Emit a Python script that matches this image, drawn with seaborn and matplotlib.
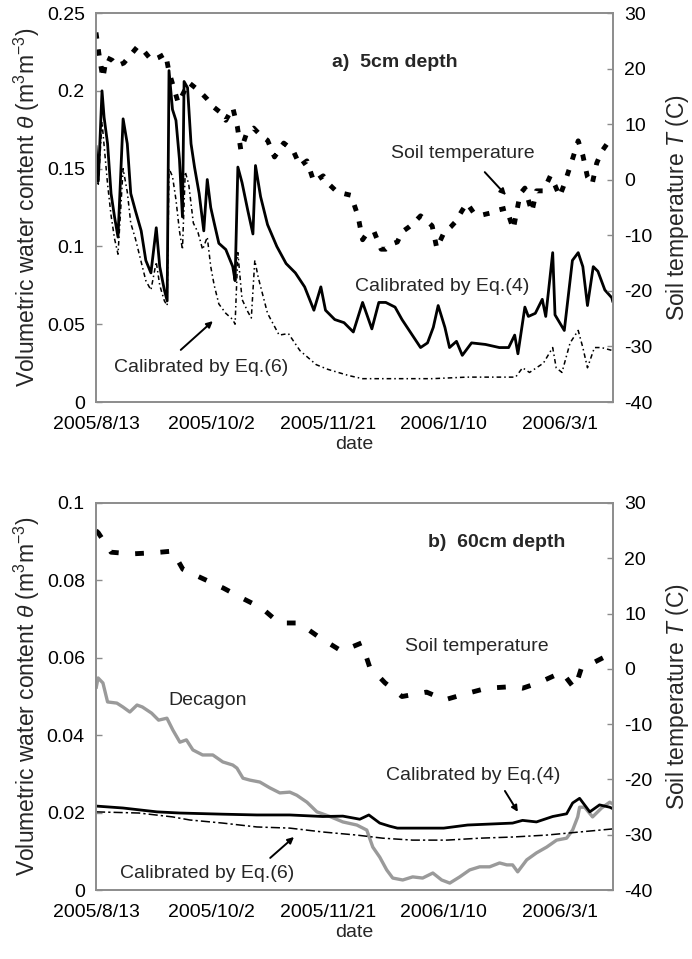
import numpy as np
import pandas as pd
import matplotlib
matplotlib.use("Agg")
import matplotlib.pyplot as plt
import matplotlib.ticker as mticker
import seaborn as sns

# ---- data -------------------------------------------------------------
START = "2005-08-13"
XTICK_DAYS = [0, 50, 100, 150, 200]
X_END_DAY = 223

# 5 cm depth: volumetric water content (m3/m3)
a_eq4_day = [0, 1, 2.6, 3.5, 5, 6.5, 8, 9.5, 11.7, 13.5, 15, 17, 19.5, 21.5, 23.7, 26, 27.5,
             29.5, 30.7, 31.5, 33, 34.5, 36, 37.3, 38, 39.5, 41, 42.5, 44.5, 46.5, 48, 49.5,
             51, 53, 56, 59, 60, 61.2, 63, 65.5, 67.7, 68.8, 71, 74, 78, 82, 86, 90, 94, 97,
             99, 103, 107, 111, 115, 119, 122, 125, 129, 132, 136, 140, 143, 145.5, 147.6,
             150.5, 152.5, 155.5, 158, 162, 168, 174, 178, 180.6, 182, 185, 186.5, 189.5,
             192.5, 194, 197, 198, 202, 205.5, 208, 210, 212, 214.5, 216.5, 219.5, 222.5, 223]
a_eq4_val = [0.165, 0.142, 0.200, 0.183, 0.166, 0.134, 0.119, 0.106, 0.182, 0.166, 0.134,
             0.123, 0.110, 0.091, 0.083, 0.112, 0.087, 0.072, 0.065, 0.213, 0.188, 0.181,
             0.156, 0.119, 0.206, 0.202, 0.166, 0.151, 0.134, 0.110, 0.143, 0.125, 0.115,
             0.102, 0.098, 0.087, 0.078, 0.151, 0.141, 0.123, 0.108, 0.152, 0.132, 0.114,
             0.100, 0.089, 0.083, 0.074, 0.059, 0.074, 0.059, 0.053, 0.051, 0.045, 0.064,
             0.047, 0.064, 0.064, 0.061, 0.053, 0.044, 0.035, 0.038, 0.048, 0.062, 0.048,
             0.035, 0.039, 0.030, 0.038, 0.037, 0.035, 0.035, 0.043, 0.031, 0.061, 0.055,
             0.057, 0.066, 0.055, 0.096, 0.056, 0.046, 0.091, 0.096, 0.087, 0.062, 0.087,
             0.084, 0.072, 0.067, 0.064]

a_eq6_day = [0, 1, 2.6, 3.5, 5, 6.5, 8, 9.5, 11.7, 13.5, 15, 17, 19.5, 21.5, 23.7, 26, 27.5,
             29.5, 30.7, 31.5, 33, 34.5, 36, 37.3, 38.5, 40, 42, 44, 46, 48, 49.5, 51, 53,
             56, 59, 60, 61.2, 63, 65.5, 67, 68.5, 70, 74, 79, 83, 88, 95, 100, 109, 115,
             130, 145, 160, 175, 181, 184, 187, 190, 193, 197, 198.5, 201, 204.5, 208, 210,
             212, 215, 218, 223]
a_eq6_val = [0.150, 0.140, 0.180, 0.165, 0.140, 0.120, 0.105, 0.095, 0.150, 0.135, 0.115,
             0.105, 0.090, 0.078, 0.072, 0.090, 0.075, 0.065, 0.062, 0.150, 0.145, 0.130,
             0.110, 0.098, 0.148, 0.140, 0.115, 0.109, 0.098, 0.106, 0.087, 0.075, 0.063,
             0.057, 0.053, 0.050, 0.096, 0.066, 0.058, 0.054, 0.091, 0.080, 0.057, 0.043,
             0.044, 0.033, 0.024, 0.021, 0.017, 0.015, 0.015, 0.015, 0.016, 0.016, 0.016,
             0.022, 0.019, 0.022, 0.025, 0.035, 0.022, 0.019, 0.038, 0.046, 0.035, 0.022,
             0.035, 0.035, 0.033]

# 5 cm depth: soil temperature (C)
a_temp_day = [0, 1.5, 3, 4.5, 7, 9, 12, 15, 18, 21, 24, 27, 30, 31.5, 35.5, 40, 43, 45, 48,
              51, 54, 56, 59, 61, 62.5, 65, 68, 71, 74, 77, 81, 85, 88, 91, 94, 98, 101, 104,
              107, 110, 113, 115, 117, 120, 123, 125, 128, 130, 132, 135, 137, 140, 143, 145,
              147, 150, 153, 155, 158, 160, 163, 167, 170, 174, 177, 180, 183, 185, 188, 190,
              193, 196, 198, 200, 202, 205, 208, 210, 212, 214, 216, 218, 221, 223]
a_temp_val = [26.5, 22, 18.3, 22, 21.5, 20.5, 21, 22.5, 24, 23, 21.5, 22, 22.7, 19.4, 13.8,
              17.5, 16.5, 15.8, 14.5, 13, 12, 10.7, 13, 9.5, 5.3, 8.4, 9.3, 8, 7.1, 4.1, 6.6,
              5.3, 2.5, 3.4, -0.4, 0.7, -1, -2.2, -2.5, -2.8, -6.5, -10.8, -9.6, -9.4, -12.5,
              -12.5, -11.5, -11.2, -9.4, -8.5, -7.8, -6.5, -7.5, -8.3, -12.3, -9.6, -8.5,
              -7.6, -5.5, -4.2, -6, -6.3, -6, -5.4, -5.1, -8.9, -2.5, -1.5, -5.8, -2, -2, 0.7,
              -1, -3, -0.8, 3, 7, 4.4, 0.5, -0.8, 3, 5, 6.8, 7]

# 60 cm depth: volumetric water content (m3/m3)
b_eq4_day = [0, 11.6, 26.3, 36.2, 54.7, 69.4, 83.6, 97.8, 106.5, 113.8, 117.7, 122.4, 126.7,
             130, 150, 160.3, 179.7, 184, 190, 197, 203, 205.6, 208.6, 213, 217.2, 221.6, 223]
b_eq4_val = [0.0217, 0.0212, 0.0202, 0.0199, 0.0196, 0.0194, 0.0194, 0.0190, 0.0191, 0.0183,
             0.0194, 0.0173, 0.0165, 0.0160, 0.0160, 0.0168, 0.0173, 0.0180, 0.0176, 0.0190,
             0.0197, 0.0225, 0.0237, 0.0202, 0.0220, 0.0214, 0.0210]

b_eq6_day = [0, 18.5, 33, 40.5, 54.7, 69.4, 83.6, 97.8, 112.5, 123.7, 136.6, 151.3, 165.5,
             179.7, 194.4, 208.6, 223]
b_eq6_val = [0.0202, 0.0199, 0.0189, 0.0181, 0.0173, 0.0163, 0.0160, 0.0150, 0.0142, 0.0134,
             0.0129, 0.0129, 0.0134, 0.0137, 0.0142, 0.0150, 0.0158]

b_dec_day = [0, 0.9, 3, 5, 9, 11.6, 14.6, 17.7, 20, 24, 27, 30.6, 33.2, 36.2, 39, 41.8, 46,
             50.4, 54.7, 59, 60.8, 63.4, 66.4, 70.7, 75, 79.3, 83.6, 86.6, 91, 95.3, 100.9,
             106.5, 112.5, 116.8, 119.4, 122.4, 125.4, 128, 132.3, 136.6, 140.9, 145.3,
             149.1, 152.6, 156.9, 161.2, 165.5, 169.8, 174.1, 177.2, 179.7, 181.9, 185.8,
             190, 194.4, 198.7, 203, 205.6, 207.8, 208.6, 210.8, 214.2, 218.1, 221.6, 223]
b_dec_val = [0.0520, 0.0548, 0.0535, 0.0486, 0.0483, 0.0473, 0.0460, 0.0478, 0.0473, 0.0457,
             0.0439, 0.0444, 0.0413, 0.0382, 0.0388, 0.0362, 0.0349, 0.0349, 0.0331, 0.0323,
             0.0315, 0.0289, 0.0284, 0.0279, 0.0264, 0.0251, 0.0253, 0.0245, 0.0227, 0.0202,
             0.0190, 0.0176, 0.0168, 0.0155, 0.0111, 0.0085, 0.0052, 0.0031, 0.0026, 0.0034,
             0.0031, 0.0044, 0.0026, 0.0018, 0.0034, 0.0052, 0.0060, 0.0060, 0.0070, 0.0065,
             0.0065, 0.0047, 0.0078, 0.0096, 0.0111, 0.0129, 0.0134, 0.0155, 0.0189, 0.0214,
             0.0214, 0.0189, 0.0212, 0.0227, 0.0222]

# 60 cm depth: soil temperature (C)
b_temp_day = [0, 1, 6.5, 15.5, 25, 33, 37.5, 45.7, 55, 63, 71.5, 79, 87.5, 96, 106, 114.6,
              118, 124.6, 132, 142.6, 150.4, 159.5, 168.5, 180, 184, 191, 201, 206.5, 209.5,
              214, 221, 223]
b_temp_val = [25, 24.6, 21.1, 20.8, 21, 21.3, 18, 16.4, 14.6, 12.8, 11, 8.3, 8.3, 5.8, 3.2,
              4.7, 0.4, -2.5, -5, -4.2, -5.6, -4.5, -3.5, -3.2, -3.5, -2.5, -0.6, -3.6, 0.3,
              1, 2.5, 3]

# ---- helpers ----------------------------------------------------------
t0 = pd.Timestamp(START)


def frame(days, values):
    return pd.DataFrame({"date": t0 + pd.to_timedelta(np.asarray(days, float), unit="D"),
                         "value": values})


sns.set_theme(style="white")
plt.rcParams["font.family"] = ["Liberation Sans", "DejaVu Sans"]
plt.rcParams["mathtext.fontset"] = "custom"
plt.rcParams["mathtext.rm"] = "Liberation Sans"
plt.rcParams["mathtext.it"] = "Liberation Sans:italic"
plt.rcParams["lines.solid_capstyle"] = "butt"
plt.rcParams["lines.dash_capstyle"] = "butt"

FS = 14
LABEL_FS = 16.5
SPINE = "#8c8c8c"

fig = plt.figure(figsize=(6.92, 9.59), dpi=100)
ax_a = fig.add_axes([0.1387, 0.5808, 0.7471, 0.4056])
ax_b = fig.add_axes([0.1387, 0.0719, 0.7471, 0.4036])

date_fmt = mticker.FuncFormatter(
    lambda v, _: (lambda d: f"{d.year}/{d.month}/{d.day}")(pd.Timestamp(matplotlib.dates.num2date(v)).tz_localize(None)))


def style_axes(ax, ax2, ylim, yticks, ytick_fmt, tlim, tticks):
    ax.set_xlim(t0, t0 + pd.Timedelta(days=X_END_DAY))
    ax.set_xticks([t0 + pd.Timedelta(days=d) for d in XTICK_DAYS])
    ax.xaxis.set_major_formatter(date_fmt)
    ax.set_ylim(*ylim)
    ax.set_yticks(yticks)
    ax.set_yticklabels([ytick_fmt(v) for v in yticks])
    ax2.set_ylim(*tlim)
    ax2.set_yticks(tticks)
    ax2.set_yticklabels([str(v) for v in tticks])
    for a in (ax, ax2):
        for s in a.spines.values():
            s.set_color(SPINE)
            s.set_linewidth(1.2)
        a.tick_params(direction="in", length=4, width=1, color=SPINE,
                      labelsize=FS, labelcolor="black", pad=8)
        a.grid(False)
    ax.tick_params(axis="x", pad=10)
    ax.set_xlabel("date", fontsize=FS, labelpad=2)
    ax.set_ylabel(r"Volumetric water content $\theta$ (m$^3$m$^{-3}$)", fontsize=LABEL_FS)
    ax2.set_ylabel(r"Soil temperature $T$ (C)", fontsize=LABEL_FS)


def fmt_general(v):
    s = f"{v:.2f}".rstrip("0").rstrip(".")
    return s if s else "0"


arrow = dict(arrowstyle="-|>", color="black", lw=1.4, mutation_scale=9, shrinkA=0, shrinkB=0)

# ---- panel a: 5 cm ----------------------------------------------------
ax_a2 = ax_a.twinx()
sns.lineplot(data=frame(a_temp_day, a_temp_val), x="date", y="value", ax=ax_a2,
             color="black", lw=3.5, linestyle=(0, (1.3, 2.2)))
sns.lineplot(data=frame(a_eq6_day, a_eq6_val), x="date", y="value", ax=ax_a,
             color="black", lw=1.1, linestyle=(0, (3, 2, 1, 2)))
sns.lineplot(data=frame(a_eq4_day, a_eq4_val), x="date", y="value", ax=ax_a,
             color="black", lw=2.0)
style_axes(ax_a, ax_a2, (0, 0.25), [0, 0.05, 0.1, 0.15, 0.2, 0.25], fmt_general,
           (-40, 30), list(range(-40, 31, 10)))

ax_a.text(0.578, 0.874, "a)  5cm depth", transform=ax_a.transAxes, fontsize=FS,
          fontweight="bold", ha="center", va="center")
ax_a.text(0.71, 0.64, "Soil temperature", transform=ax_a.transAxes, fontsize=FS,
          ha="center", va="center")
ax_a.annotate("", xy=(0.793, 0.532), xytext=(0.752, 0.591), xycoords="axes fraction",
              textcoords="axes fraction", arrowprops=arrow)
ax_a.text(0.669, 0.296, "Calibrated by Eq.(4)", transform=ax_a.transAxes, fontsize=FS,
          ha="center", va="center")
ax_a.text(0.203, 0.090, "Calibrated by Eq.(6)", transform=ax_a.transAxes, fontsize=FS,
          ha="center", va="center")
ax_a.annotate("", xy=(0.226, 0.208), xytext=(0.164, 0.134), xycoords="axes fraction",
              textcoords="axes fraction", arrowprops=arrow)

# ---- panel b: 60 cm ---------------------------------------------------
ax_b2 = ax_b.twinx()
sns.lineplot(data=frame(b_temp_day, b_temp_val), x="date", y="value", ax=ax_b2,
             color="black", lw=3.5, linestyle=(0, (1.8, 3.4)))
sns.lineplot(data=frame(b_dec_day, b_dec_val), x="date", y="value", ax=ax_b,
             color="#9a9a9a", lw=2.4)
sns.lineplot(data=frame(b_eq6_day, b_eq6_val), x="date", y="value", ax=ax_b,
             color="black", lw=1.1, linestyle=(0, (6, 2, 1.5, 2)))
sns.lineplot(data=frame(b_eq4_day, b_eq4_val), x="date", y="value", ax=ax_b,
             color="black", lw=2.0)
style_axes(ax_b, ax_b2, (0, 0.1), [0, 0.02, 0.04, 0.06, 0.08, 0.1], fmt_general,
           (-40, 30), list(range(-40, 31, 10)))

ax_b.text(0.776, 0.897, "b)  60cm depth", transform=ax_b.transAxes, fontsize=FS,
          fontweight="bold", ha="center", va="center")
ax_b.text(0.737, 0.630, "Soil temperature", transform=ax_b.transAxes, fontsize=FS,
          ha="center", va="center")
ax_b.text(0.215, 0.491, "Decagon", transform=ax_b.transAxes, fontsize=FS,
          ha="center", va="center")
ax_b.text(0.729, 0.297, "Calibrated by Eq.(4)", transform=ax_b.transAxes, fontsize=FS,
          ha="center", va="center")
ax_b.annotate("", xy=(0.816, 0.202), xytext=(0.791, 0.256), xycoords="axes fraction",
              textcoords="axes fraction", arrowprops=arrow)
ax_b.text(0.215, 0.044, "Calibrated by Eq.(6)", transform=ax_b.transAxes, fontsize=FS,
          ha="center", va="center")
ax_b.annotate("", xy=(0.383, 0.137), xytext=(0.337, 0.083), xycoords="axes fraction",
              textcoords="axes fraction", arrowprops=arrow)

for ax in (ax_a, ax_b):
    ax.yaxis.set_label_coords(-0.104, 0.5)
for ax in (ax_a2, ax_b2):
    ax.yaxis.set_label_coords(1.099, 0.5)

fig.savefig("out.png", dpi=100, facecolor="white")
